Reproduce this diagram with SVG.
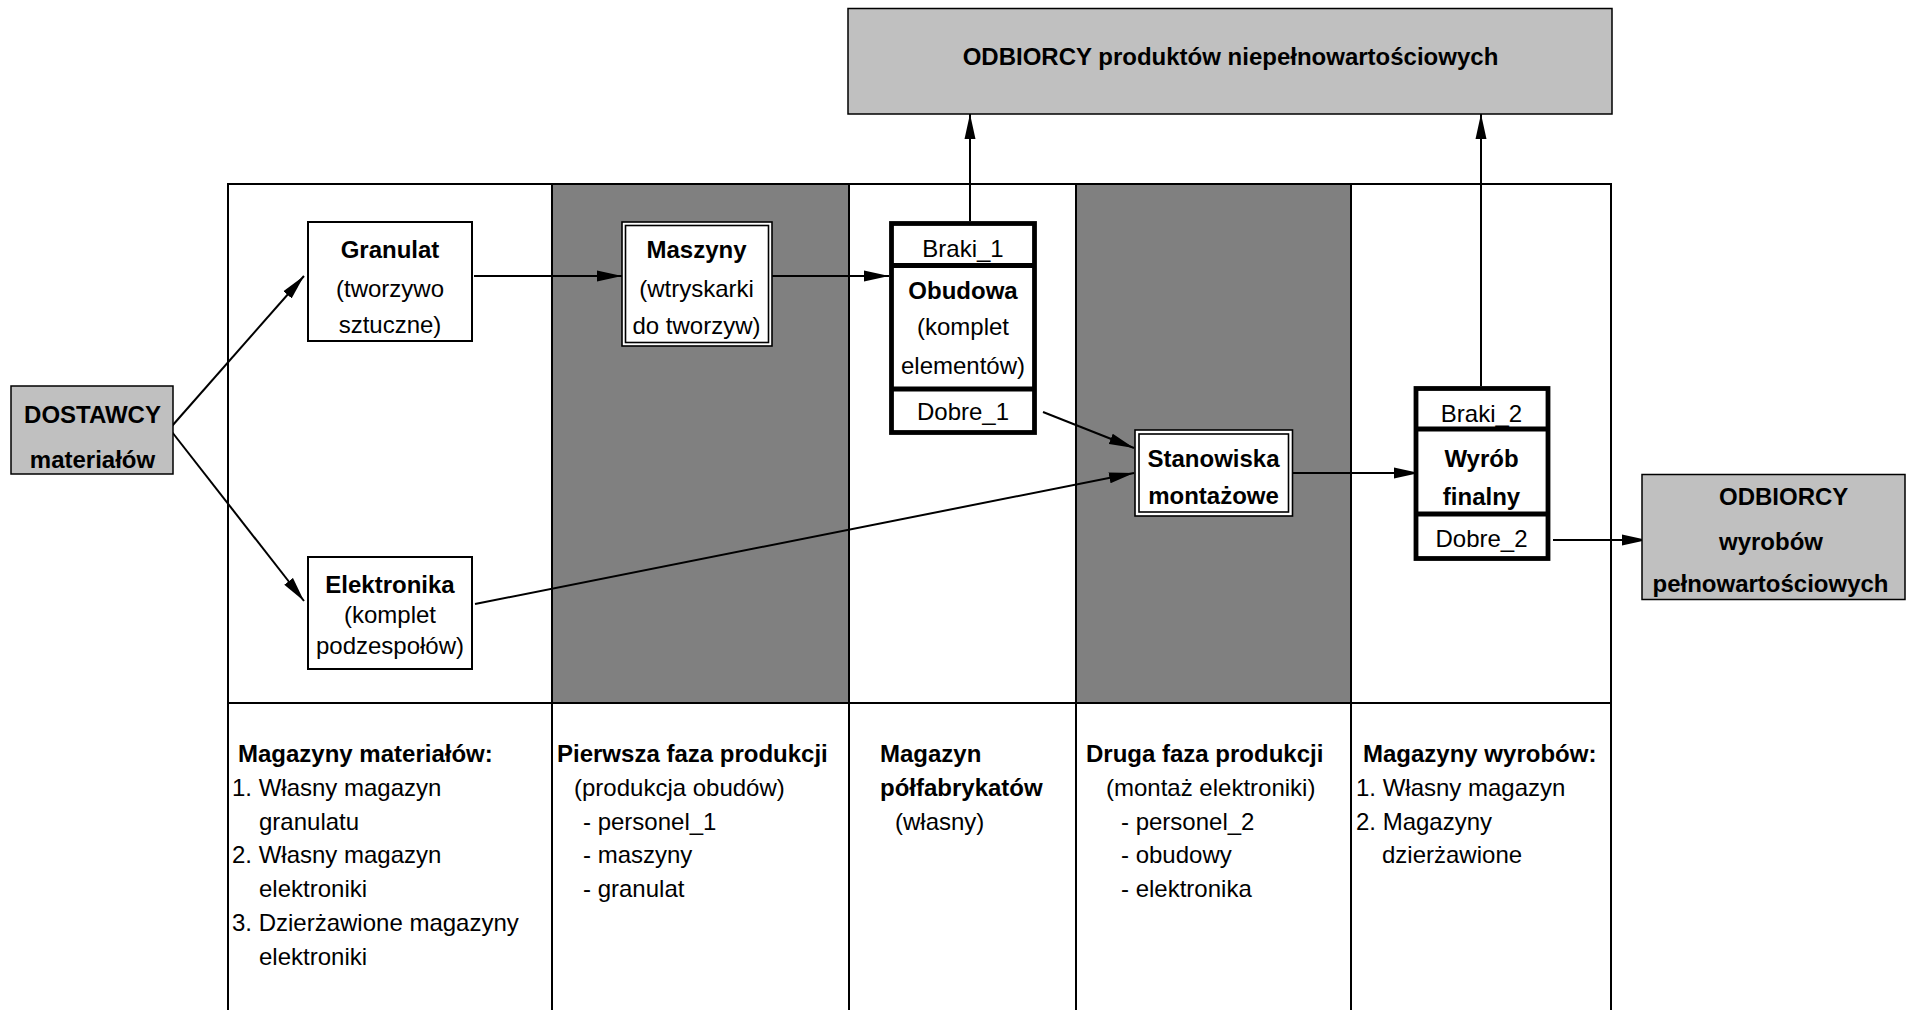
<svg xmlns="http://www.w3.org/2000/svg" width="1914" height="1010" viewBox="0 0 1914 1010">
<defs>
<style>
.t{font-family:"Liberation Sans",Arial,sans-serif;font-size:24px;fill:#000}
.b{font-weight:bold}
.c{text-anchor:middle}
.ln{stroke:#000;stroke-width:2;fill:none}
.grid{stroke:#000;stroke-width:2;fill:none}
.ext{fill:#c0c0c0;stroke:#000;stroke-width:1.5}
.box{fill:#fff;stroke:#000;stroke-width:2}
.dbl{fill:#fff;stroke:#000;stroke-width:1.6}
.thick{fill:#fff;stroke:#000;stroke-width:4.8}
</style>
<marker id="ah" markerUnits="userSpaceOnUse" markerWidth="26" markerHeight="12" refX="25" refY="6" orient="auto">
<path d="M0,0.5 L25,6 L0,11.5 Z" fill="#000"/>
</marker>
</defs>
<rect width="1914" height="1010" fill="#fff"/>

<g id="swimlanes">
<rect x="552" y="184" width="297" height="519" fill="#808080"/>
<rect x="1076" y="184" width="275" height="519" fill="#808080"/>
<path class="grid" d="M228,1012 V184 H1611 V1012 M552,184 V1012 M849,184 V1012 M1076,184 V1012 M1351,184 V1012 M228,703 H1611"/>
</g>

<g id="lane-labels">
<text class="t b" x="238" y="762">Magazyny materiałów:</text>
<text class="t" x="232" y="795.75">1. Własny magazyn</text>
<text class="t" x="259" y="829.5">granulatu</text>
<text class="t" x="232" y="863.25">2. Własny magazyn</text>
<text class="t" x="259" y="897">elektroniki</text>
<text class="t" x="232" y="930.75">3. Dzierżawione magazyny</text>
<text class="t" x="259" y="964.5">elektroniki</text>

<text class="t b" x="557" y="762">Pierwsza faza produkcji</text>
<text class="t" x="574" y="795.75">(produkcja obudów)</text>
<text class="t" x="583" y="829.5">- personel_1</text>
<text class="t" x="583" y="863.25">- maszyny</text>
<text class="t" x="583" y="897">- granulat</text>

<text class="t b" x="880" y="762">Magazyn</text>
<text class="t b" x="880" y="795.75">półfabrykatów</text>
<text class="t" x="895" y="829.5">(własny)</text>

<text class="t b" x="1086" y="762">Druga faza produkcji</text>
<text class="t" x="1106" y="795.75">(montaż elektroniki)</text>
<text class="t" x="1121" y="829.5">- personel_2</text>
<text class="t" x="1121" y="863.25">- obudowy</text>
<text class="t" x="1121" y="897">- elektronika</text>

<text class="t b" x="1363" y="762">Magazyny wyrobów:</text>
<text class="t" x="1356" y="795.75">1. Własny magazyn</text>
<text class="t" x="1356" y="829.5">2. Magazyny</text>
<text class="t" x="1382" y="863.25">dzierżawione</text>
</g>

<g id="connectors">
<line class="ln" x1="172" y1="426" x2="304" y2="276" marker-end="url(#ah)"/>
<line class="ln" x1="172" y1="432" x2="304" y2="601" marker-end="url(#ah)"/>
<line class="ln" x1="474" y1="276" x2="622" y2="276" marker-end="url(#ah)"/>
<line class="ln" x1="759" y1="276" x2="889" y2="276" marker-end="url(#ah)"/>
<line class="ln" x1="970" y1="221" x2="970" y2="114" marker-end="url(#ah)"/>
<line class="ln" x1="1043" y1="412" x2="1134" y2="448" marker-end="url(#ah)"/>
<line class="ln" x1="475" y1="604" x2="1134" y2="473" marker-end="url(#ah)"/>
<line class="ln" x1="1292" y1="473" x2="1419" y2="473" marker-end="url(#ah)"/>
<line class="ln" x1="1481" y1="386" x2="1481" y2="114" marker-end="url(#ah)"/>
<line class="ln" x1="1553" y1="540" x2="1647" y2="540" marker-end="url(#ah)"/>
</g>

<g id="odbiorcy-niepelnowartosciowe">
<rect class="ext" x="848" y="8.5" width="764" height="105.5"/>
<text class="t b c" x="1230.5" y="65">ODBIORCY produktów niepełnowartościowych</text>
</g>

<g id="dostawcy">
<rect class="ext" x="11" y="386" width="162" height="88"/>
<text class="t b c" x="92.5" y="423">DOSTAWCY</text>
<text class="t b c" x="92.5" y="468">materiałów</text>
</g>

<g id="granulat">
<rect class="box" x="308" y="222" width="164" height="119"/>
<text class="t b c" x="390" y="257.5">Granulat</text>
<text class="t c" x="390" y="297">(tworzywo</text>
<text class="t c" x="390" y="333">sztuczne)</text>
</g>

<g id="elektronika">
<rect class="box" x="308" y="557" width="164" height="112"/>
<text class="t b c" x="390" y="593">Elektronika</text>
<text class="t c" x="390" y="623">(komplet</text>
<text class="t c" x="390" y="654">podzespołów)</text>
</g>

<g id="maszyny">
<rect class="dbl" x="622" y="222" width="150" height="124"/>
<rect class="dbl" x="625.5" y="225.5" width="143" height="117"/>
<text class="t b c" x="696.5" y="257.5">Maszyny</text>
<text class="t c" x="696.5" y="297">(wtryskarki</text>
<text class="t c" x="696.5" y="334">do tworzyw)</text>
</g>

<g id="obudowa">
<rect class="thick" x="891.5" y="223.5" width="143" height="209"/>
<path d="M891.5,265.5 H1034.5 M891.5,389 H1034.5" stroke="#000" stroke-width="4.8"/>
<text class="t c" x="963" y="257">Braki_1</text>
<text class="t b c" x="963" y="298.5">Obudowa</text>
<text class="t c" x="963" y="335">(komplet</text>
<text class="t c" x="963" y="374">elementów)</text>
<text class="t c" x="963" y="420">Dobre_1</text>
</g>

<g id="stanowiska">
<rect class="dbl" x="1135" y="430" width="157.5" height="86"/>
<rect class="dbl" x="1139" y="434" width="149.5" height="78"/>
<text class="t b c" x="1213.5" y="467">Stanowiska</text>
<text class="t b c" x="1213.5" y="503.5">montażowe</text>
</g>

<g id="wyrob-finalny">
<rect class="thick" x="1416" y="388.5" width="132" height="170"/>
<path d="M1416,429 H1548 M1416,514 H1548" stroke="#000" stroke-width="4.8"/>
<text class="t c" x="1481.5" y="421.5">Braki_2</text>
<text class="t b c" x="1481.5" y="466.5">Wyrób</text>
<text class="t b c" x="1481.5" y="505">finalny</text>
<text class="t c" x="1481.5" y="546.5">Dobre_2</text>
</g>

<g id="odbiorcy-wyrobow">
<rect class="ext" x="1642" y="474.5" width="263" height="125"/>
<text class="t b" x="1719" y="504.5">ODBIORCY</text>
<text class="t b" x="1719" y="549.5">wyrobów</text>
<text class="t b c" x="1770.5" y="591.5">pełnowartościowych</text>
</g>
</svg>
